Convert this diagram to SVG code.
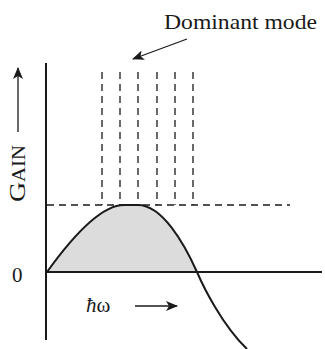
<svg xmlns="http://www.w3.org/2000/svg" width="325" height="349" viewBox="0 0 325 349">
  <style>
    .ax { stroke: #1a1a1a; stroke-width: 2; fill: none; }
    .dash { stroke: #1a1a1a; stroke-width: 1.3; stroke-dasharray: 7 5; fill: none; }
    .txt { font-family: "Liberation Serif", "Times New Roman", serif; fill: #1a1a1a; }
    .arr { stroke: #1a1a1a; stroke-width: 1.3; fill: none; marker-end: url(#ah); }
  </style>
  <defs>
    <marker id="ah" viewBox="0 0 12 10" refX="11" refY="5" markerWidth="12" markerHeight="10" markerUnits="userSpaceOnUse" orient="auto">
      <path d="M0,0 L12,5 L0,10 L3,5 Z" fill="#1a1a1a"/>
    </marker>
  </defs>
  <rect width="325" height="349" fill="#fff"/>

  <g id="gain-region">
    <path d="M47,272 C70,240 100,205 124,205 L138,205 C162,205 184,243 197,272 Z" fill="#dcdcdc"/>
  </g>

  <g id="modes">
    <line class="dash" x1="47" y1="205" x2="290" y2="205"/>
    <line class="dash" x1="102" y1="72" x2="102" y2="205"/>
    <line class="dash" x1="120" y1="72" x2="120" y2="205"/>
    <line class="dash" x1="138" y1="72" x2="138" y2="205"/>
    <line class="dash" x1="157" y1="72" x2="157" y2="205"/>
    <line class="dash" x1="175" y1="72" x2="175" y2="205"/>
    <line class="dash" x1="193" y1="72" x2="193" y2="205"/>
  </g>

  <g id="axes">
    <line class="ax" x1="46" y1="63" x2="46" y2="340"/>
    <line class="ax" x1="46" y1="272" x2="322" y2="272"/>
  </g>

  <g id="gain-curve">
    <path class="ax" d="M47,272 C70,240 100,205 124,205 L138,205 C162,205 184,243 197,272 C203,286 222,325 247,349"/>
  </g>

  <g id="label-dominant">
    <text class="txt" x="164" y="29" font-size="21" textLength="153" lengthAdjust="spacingAndGlyphs">Dominant mode</text>
  </g>
  <g id="label-gain">
    <text class="txt" transform="translate(25,202) rotate(-90)" font-size="24" textLength="57" lengthAdjust="spacingAndGlyphs">G<tspan font-size="18">AIN</tspan></text>
  </g>
  <g id="label-zero">
    <text class="txt" x="12" y="282" font-size="21">0</text>
  </g>
  <g id="label-hw">
    <text class="txt" x="86" y="312" font-size="21"><tspan font-style="italic">ħ</tspan>ω</text>
  </g>

  <g id="connectors">
    <line class="arr" x1="187" y1="39" x2="133" y2="59"/>
    <line class="arr" x1="18" y1="132" x2="18" y2="68"/>
    <line class="arr" x1="135" y1="306" x2="177" y2="306"/>
  </g>
</svg>
